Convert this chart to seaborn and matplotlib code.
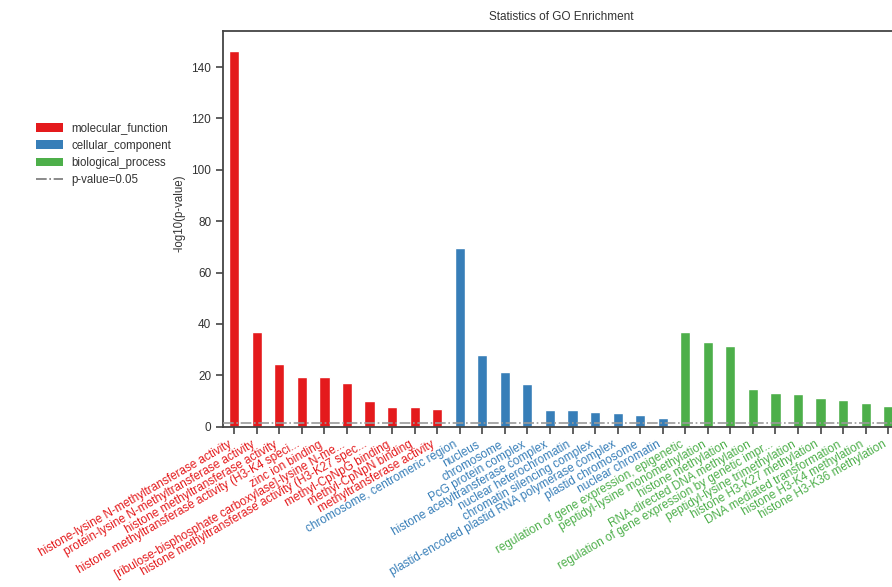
import matplotlib
matplotlib.use("Agg")
import matplotlib.pyplot as plt
from matplotlib.patches import Patch
from matplotlib.lines import Line2D
import seaborn as sns
import pandas as pd
import numpy as np

# GO terms per ontology, in plotting order
mf_terms = [
    "histone-lysine N-methyltransferase activity",
    "protein-lysine N-methyltransferase activity",
    "histone methyltransferase activity",
    "histone methyltransferase activity (H3-K4 speci...",
    "zinc ion binding",
    "[ribulose-bisphosphate carboxylase]-lysine N-me...",
    "histone methyltransferase activity (H3-K27 spec...",
    "methyl-CpNpG binding",
    "methyl-CpNpN binding",
    "methyltransferase activity",
]
mf_values = [146.3, 37.0, 24.3, 19.5, 19.3, 17.0, 10.0, 7.6, 7.6, 7.1]

cc_terms = [
    "chromosome, centromeric region",
    "nucleus",
    "chromosome",
    "PcG protein complex",
    "histone acetyltransferase complex",
    "nuclear heterochromatin",
    "chromatin silencing complex",
    "plastid-encoded plastid RNA polymerase complex",
    "plastid chromosome",
    "nuclear chromatin",
]
cc_values = [69.6, 28.1, 21.3, 16.8, 6.6, 6.5, 5.6, 5.5, 4.6, 3.6]

bp_terms = [
    "regulation of gene expression, epigenetic",
    "peptidyl-lysine monomethylation",
    "histone methylation",
    "RNA-directed DNA methylation",
    "regulation of gene expression by genetic impr...",
    "peptidyl-lysine trimethylation",
    "histone H3-K27 methylation",
    "DNA mediated transformation",
    "histone H3-K4 methylation",
    "histone H3-K36 methylation",
]
bp_values = [36.7, 33.0, 31.5, 14.6, 13.1, 12.6, 11.2, 10.3, 9.3, 8.0]

categories = ["molecular_function", "cellular_component", "biological_process"]
cat_colors = ["#e41a1c", "#377eb8", "#4daf4a"]
pvalue_cutoff = 0.05

df = pd.DataFrame({
    "term": mf_terms + cc_terms + bp_terms,
    "value": mf_values + cc_values + bp_values,
    "category": [categories[0]] * len(mf_terms)
    + [categories[1]] * len(cc_terms)
    + [categories[2]] * len(bp_terms),
})

sns.set_style("ticks")
plt.rcParams["font.family"] = ["Liberation Sans", "DejaVu Sans"]

fig = plt.figure(figsize=(8.92, 5.87), dpi=100)
ax = fig.add_axes([0.25, 0.273, 0.7584, 0.674])

palette = dict(zip(categories, cat_colors))
sns.barplot(data=df, x="term", y="value", hue="category", palette=palette,
            dodge=False, width=0.45, legend=False, ax=ax, saturation=1)

# significance threshold drawn over the bars
cut = -np.log10(pvalue_cutoff)
ax.axhline(cut, color="#999999", linestyle="-.", linewidth=1.2, zorder=5)

ax.set_xlim(-0.5, len(df) - 0.5)
ax.set_ylim(0, 154)
ax.set_yticks(np.arange(0, 141, 20))

spine_color = "#444444"
for s in ax.spines.values():
    s.set_color(spine_color)
    s.set_linewidth(1.3)
ax.tick_params(axis="both", colors=spine_color, labelcolor="#333333",
               labelsize=8.5, width=1.2)
ax.tick_params(axis="y", length=5)
ax.tick_params(axis="x", length=5)

ax.set_xticks(range(len(df)))
ax.set_xticklabels(df["term"], rotation=30, ha="right", fontsize=8.5)
for lbl, cat in zip(ax.get_xticklabels(), df["category"]):
    lbl.set_color(palette[cat])

ax.set_xlabel("")
ax.set_ylabel("-log10(p-value)", fontsize=8.3, color="#333333")
ax.yaxis.set_label_coords(-0.056, 0.54)
ax.set_title("Statistics of GO Enrichment", fontsize=8.5, color="#333333", pad=8)

handles = [Patch(facecolor=c, edgecolor="none") for c in cat_colors]
handles.append(Line2D([0], [0], color="#777777", linestyle="-.", linewidth=1.2))
labels = categories + ["p-value=0.05"]
fig.legend(handles, labels, loc="upper left", bbox_to_anchor=(0.031, 0.805),
           frameon=False, fontsize=8.3, handlelength=2.4, handleheight=0.75,
           labelspacing=0.45, handletextpad=0.7, borderpad=0.2,
           labelcolor="#333333")

fig.savefig("out.png", dpi=100)
